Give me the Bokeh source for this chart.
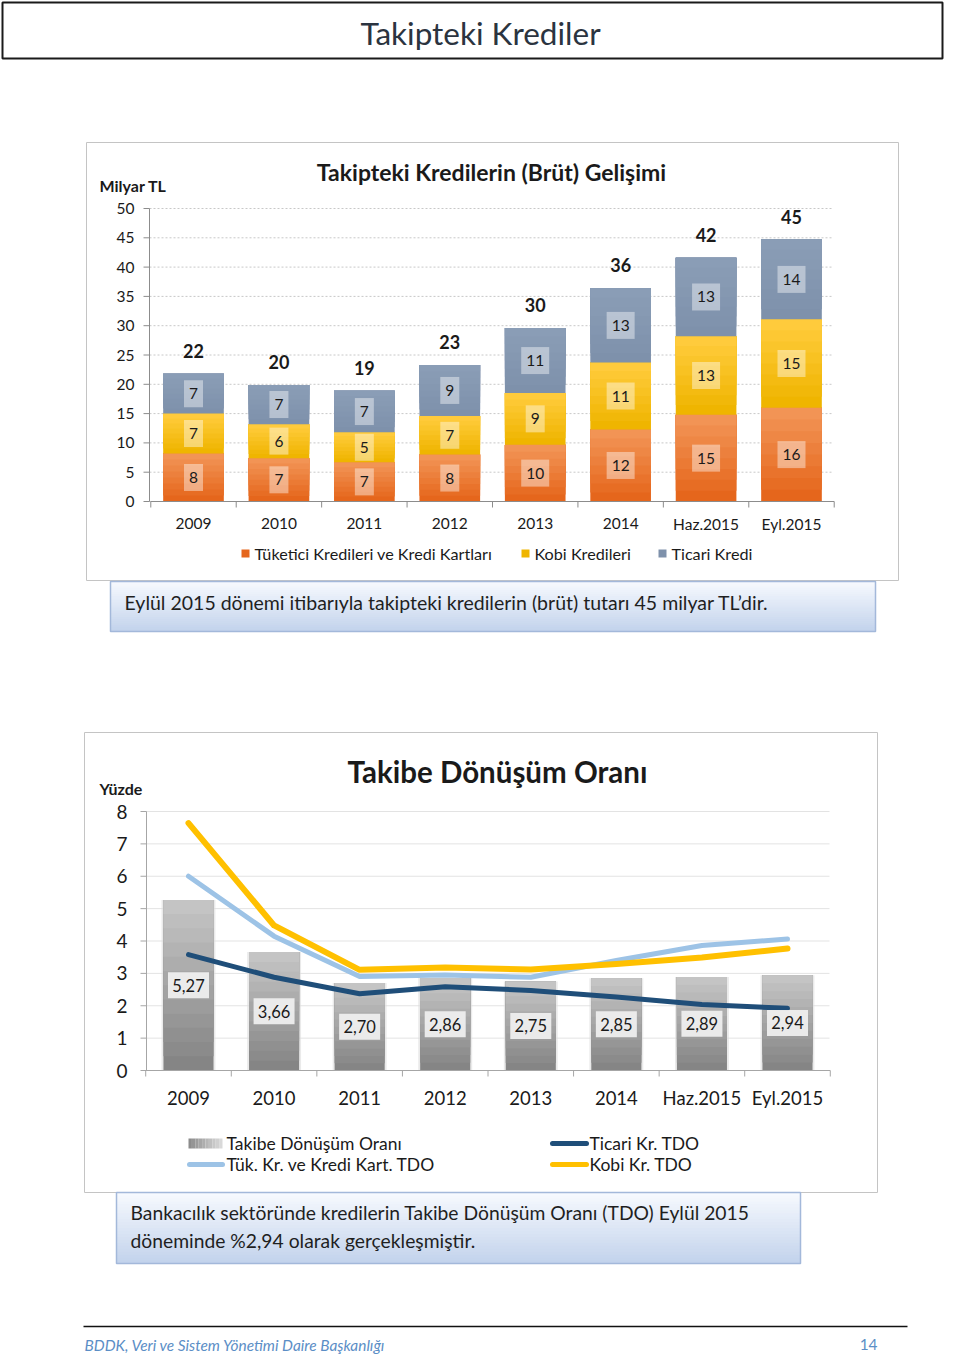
import numpy as np
from bokeh.plotting import figure
from bokeh.models import Range1d
from bokeh.core.properties import value
from bokeh.embed import file_html
from bokeh.resources import INLINE

# ---------------- data ----------------
categories = ["2009", "2010", "2011", "2012", "2013", "2014", "Haz.2015", "Eyl.2015"]

# Takipteki krediler (milyar TL)
tuketici_kredi = [8.2, 7.4, 6.7, 8.0, 9.7, 12.3, 14.8, 16.0]
kobi_kredi = [6.8, 5.8, 5.1, 6.6, 8.8, 11.4, 13.4, 15.1]
ticari_kredi = [6.8, 6.7, 7.1, 8.7, 11.1, 12.7, 13.4, 13.6]
y1_ticks = [0, 5, 10, 15, 20, 25, 30, 35, 40, 45, 50]
legend1_labels = ["Tüketici Kredileri ve Kredi Kartları", "Kobi Kredileri", "Ticari Kredi"]

# Takibe dönüşüm oranı (%)
tdo = [5.27, 3.66, 2.70, 2.86, 2.75, 2.85, 2.89, 2.94]
ticari_tdo = [3.58, 2.88, 2.37, 2.59, 2.47, 2.27, 2.04, 1.92]
tuketici_tdo = [6.00, 4.15, 2.90, 2.95, 2.88, 3.40, 3.86, 4.06]
kobi_tdo = [7.64, 4.48, 3.11, 3.18, 3.12, 3.29, 3.49, 3.77]
y2_ticks = [0, 1, 2, 3, 4, 5, 6, 7, 8]
legend2_labels = ["Takibe Dönüşüm Oranı", "Ticari Kr. TDO", "Tük. Kr. ve Kredi Kart. TDO", "Kobi Kr. TDO"]

page_title = "Takipteki Krediler"
chart1_title = "Takipteki Kredilerin (Brüt) Gelişimi"
chart2_title = "Takibe Dönüşüm Oranı"
note1 = "Eylül 2015 dönemi itibarıyla takipteki kredilerin (brüt) tutarı 45 milyar TL’dir."
note2 = ["Bankacılık sektöründe kredilerin Takibe Dönüşüm Oranı (TDO) Eylül 2015",
         "döneminde %2,94 olarak gerçekleşmiştir."]
footer_left = "BDDK, Veri ve Sistem Yönetimi Daire Başkanlığı"
footer_right = "14"

# ---------------- styling ----------------
FONT = "Lato"
TXT = "#1a1a1a"
C_ORANGE = ("#F29455", "#E5661C")
C_YELLOW = ("#FFCB3C", "#EFB500")
C_BLUEGRAY = ("#8A9DB6", "#7E91AB")
C_GRAY = ("#C4C4C4", "#858585")
C_TICARI = "#1F4E79"
C_TUK = "#9DC3E6"
C_KOBI = "#FFC000"

W, H = 944, 1354
OX, OY = 0, 0


def hex2rgb(h):
    h = h.lstrip("#")
    return [int(h[i:i + 2], 16) for i in (0, 2, 4)]


def mix(c1, c2, t):
    a, b = hex2rgb(c1), hex2rgb(c2)
    return "#%02x%02x%02x" % tuple(int(round(a[i] + (b[i] - a[i]) * t)) for i in range(3))


def lin_range(pa, va, pb, vb, lo, hi):
    s = (vb - va) / (pb - pa)
    return Range1d(start=va + (lo - pa) * s, end=va + (hi - pa) * s)


p = figure(width=W, height=H, x_range=Range1d(OX, OX + W), y_range=Range1d(OY + H, OY),
           output_backend="svg", toolbar_location=None, x_axis_type=None, y_axis_type=None,
           min_border=0, outline_line_color=None, background_fill_color="white",
           border_fill_color="white")
p.grid.visible = False

# chart scales (page pixel anchors -> data)
p.extra_x_ranges = {
    "c1x": lin_range(193, 0, 791, 7, OX, OX + W),
    "c2x": lin_range(188, 0, 787, 7, OX, OX + W),
}
p.extra_y_ranges = {
    "c1y": lin_range(501, 0, 208, 50, OY + H, OY),
    "c2y": lin_range(1070, 0, 811, 8, OY + H, OY),
}


def txt(x, y, s, size, align="left", style="normal", color=TXT, xr="default", yr="default",
        baseline="middle", y_offset=0):
    p.text(x=x, y=y, text=s, text_font=value(FONT), text_font_size=size,
           text_align=align, text_baseline=baseline, text_font_style=style,
           text_color=color, x_range_name=xr, y_range_name=yr, y_offset=y_offset)


def vgrad_box(l, r, t, b, c_top, c_bot, n=24, line_color=None):
    for k in range(n):
        yk = t + (b - t) * k / n
        p.quad(left=l, right=r, top=yk, bottom=b, fill_color=mix(c_top, c_bot, k / (n - 1)),
               line_color=None)
    if line_color:
        p.quad(left=l, right=r, top=t, bottom=b, fill_color=None, line_color=line_color, line_width=1.5)


def grad_bars(xs, bottoms, tops, colors, width, xr, yr, n=8):
    c_top, c_bot = colors
    bottoms = np.asarray(bottoms, float)
    tops = np.asarray(tops, float)
    for k in range(n):
        b = bottoms + (tops - bottoms) * k / n
        p.vbar(x=xs, bottom=b, top=tops, width=width, fill_color=mix(c_bot, c_top, k / (n - 1)),
               line_color=None, x_range_name=xr, y_range_name=yr)


# ---------------- page title ----------------
p.quad(left=2, right=942, top=2, bottom=58, fill_color="white", line_color="#1a1a1a", line_width=2)
txt([480], [32], [page_title], "31.5px", align="center", color="#2b3440")

# ---------------- chart 1 ----------------
p.quad(left=86, right=898, top=142, bottom=580, fill_color="white", line_color="#c4c4c4", line_width=1)
idx = list(range(len(categories)))
# gridlines
p.segment(x0=[149] * len(y1_ticks), x1=[833] * len(y1_ticks), y0=y1_ticks, y1=y1_ticks,
          line_color="#c8c8c8", line_width=1, line_dash="2 2", y_range_name="c1y")

t1 = np.array(tuketici_kredi)
k1 = np.array(kobi_kredi)
c1 = np.array(ticari_kredi)
s1 = t1 + k1
s2 = s1 + c1
grad_bars(idx, np.zeros(len(idx)), t1, C_ORANGE, 0.71, "c1x", "c1y")
grad_bars(idx, t1, s1, C_YELLOW, 0.71, "c1x", "c1y")
grad_bars(idx, s1, s2, C_BLUEGRAY, 0.71, "c1x", "c1y")

# axes
p.segment(x0=[149], x1=[149], y0=[0], y1=[50], line_color="#8c8c8c", line_width=1, y_range_name="c1y")
p.segment(x0=[143] * len(y1_ticks), x1=[149] * len(y1_ticks), y0=y1_ticks, y1=y1_ticks,
          line_color="#8c8c8c", line_width=1, y_range_name="c1y")
p.segment(x0=[-0.5], x1=[len(categories) - 0.5], y0=[0], y1=[0], line_color="#8c8c8c", line_width=1,
          x_range_name="c1x", y_range_name="c1y")
bnd = [i - 0.5 for i in range(len(categories) + 1)]
p.segment(x0=bnd, x1=bnd, y0=[501] * len(bnd), y1=[507] * len(bnd), line_color="#8c8c8c",
          line_width=1, x_range_name="c1x")
txt([134] * len(y1_ticks), y1_ticks, [str(v) for v in y1_ticks], "15.5px", align="right", yr="c1y")
txt(idx, [523] * len(idx), categories, "15.5px", align="center", xr="c1x")

# segment labels with translucent boxes
for bottoms, tops in ((np.zeros(len(idx)), t1), (t1, s1), (s1, s2)):
    mids = (bottoms + tops) / 2
    labs = [str(int(round(v))) for v in (tops - bottoms)]
    p.rect(x=idx, y=mids, width=[10 + 9 * len(s) for s in labs], height=27,
           width_units="screen", height_units="screen", fill_color="white", fill_alpha=0.42,
           line_color=None, x_range_name="c1x", y_range_name="c1y")
    txt(idx, mids, labs, "15.5px", align="center", xr="c1x", yr="c1y")
txt(idx, list(s2), [str(int(round(v))) for v in s2], "18px", align="center", style="bold",
    xr="c1x", yr="c1y", y_offset=-23)

txt([99], [185], ["Milyar TL"], "16px", style="bold")
txt([491], [171], [chart1_title], "23px", align="center", style="bold")

# legend 1
leg1_x = [245, 525, 662]
leg1_c = [C_ORANGE[1], C_YELLOW[1], C_BLUEGRAY[1]]
p.rect(x=leg1_x, y=[553] * 3, width=8, height=8, fill_color=leg1_c, line_color=None)
txt([x + 9 for x in leg1_x], [553] * 3, legend1_labels, "16.2px")

# text box 1
vgrad_box(110, 875, 581, 631, "#f6f9fe", "#c3d3ec", line_color="#a3b8da")
txt([124], [602], [note1], "19.5px", color="#1f1f1f")

# ---------------- chart 2 ----------------
p.quad(left=84, right=877, top=732, bottom=1192, fill_color="white", line_color="#c4c4c4", line_width=1)
p.segment(x0=[146] * len(y2_ticks), x1=[829] * len(y2_ticks), y0=y2_ticks, y1=y2_ticks,
          line_color="#e3e3e3", line_width=1, y_range_name="c2y")
idx2 = list(range(len(categories)))
# soft glow behind bars
p.vbar(x=idx2, bottom=0, top=tdo, width=0.63, fill_color="#dcdcdc", fill_alpha=0.6, line_color=None,
       x_range_name="c2x", y_range_name="c2y")
grad_bars(idx2, np.zeros(len(idx2)), tdo, C_GRAY, 0.585, "c2x", "c2y", n=12)

p.segment(x0=[146], x1=[146], y0=[0], y1=[8], line_color="#a6a6a6", line_width=1, y_range_name="c2y")
p.segment(x0=[140] * len(y2_ticks), x1=[146] * len(y2_ticks), y0=y2_ticks, y1=y2_ticks,
          line_color="#a6a6a6", line_width=1, y_range_name="c2y")
p.segment(x0=[-0.5], x1=[len(categories) - 0.5], y0=[0], y1=[0], line_color="#a6a6a6", line_width=1,
          x_range_name="c2x", y_range_name="c2y")
p.segment(x0=bnd, x1=bnd, y0=[1070] * len(bnd), y1=[1076] * len(bnd), line_color="#a6a6a6",
          line_width=1, x_range_name="c2x")
txt([127] * len(y2_ticks), y2_ticks, [str(v) for v in y2_ticks], "19px", align="right", yr="c2y")
txt(idx2, [1097] * len(idx2), categories, "18.5px", align="center", xr="c2x")

for ys, col, lw in ((ticari_tdo, C_TICARI, 5), (tuketici_tdo, C_TUK, 5), (kobi_tdo, C_KOBI, 6)):
    p.line(x=idx2, y=ys, line_color=col, line_width=lw, line_cap="round", line_join="round",
           x_range_name="c2x", y_range_name="c2y")

labs2 = [("%.2f" % v).replace(".", ",") for v in tdo]
mids2 = [v / 2 for v in tdo]
p.rect(x=idx2, y=mids2, width=41, height=26, width_units="screen", height_units="screen",
       fill_color="#eeeeee", fill_alpha=0.95, line_color=None, x_range_name="c2x", y_range_name="c2y")
txt(idx2, mids2, labs2, "16.5px", align="center", xr="c2x", yr="c2y")

txt([99], [788], ["Yüzde"], "16px", style="bold")
txt([497], [771], [chart2_title], "29.5px", align="center", style="bold")

# legend 2
for k in range(10):
    p.quad(left=188 + 3.4 * k, right=188 + 3.4 * (k + 1), top=1138, bottom=1148,
           fill_color=mix("#8c8c8c", "#d9d9d9", k / 9), line_color=None)
p.segment(x0=[552], x1=[586], y0=[1143], y1=[1143], line_color=C_TICARI, line_width=5, line_cap="round")
p.segment(x0=[189], x1=[222], y0=[1164], y1=[1164], line_color=C_TUK, line_width=5, line_cap="round")
p.segment(x0=[552], x1=[586], y0=[1164], y1=[1164], line_color=C_KOBI, line_width=5, line_cap="round")
txt([226, 589, 226, 589], [1143, 1143, 1164, 1164], legend2_labels, "17.5px")

# text box 2
vgrad_box(116, 800, 1192, 1263, "#f6f9fe", "#c3d3ec", line_color="#a3b8da")
txt([130, 130], [1212, 1240], note2, "19.3px", color="#1f1f1f")

# ---------------- footer ----------------
p.segment(x0=[83], x1=[907], y0=[1326], y1=[1326], line_color="#111111", line_width=1.5)
txt([84], [1344], [footer_left], "15.4px", style="italic", color="#5b8ec6")
txt([877], [1344], [footer_right], "15.4px", align="right", color="#5b8ec6")

open("out.html", "w").write(file_html(p, INLINE))
